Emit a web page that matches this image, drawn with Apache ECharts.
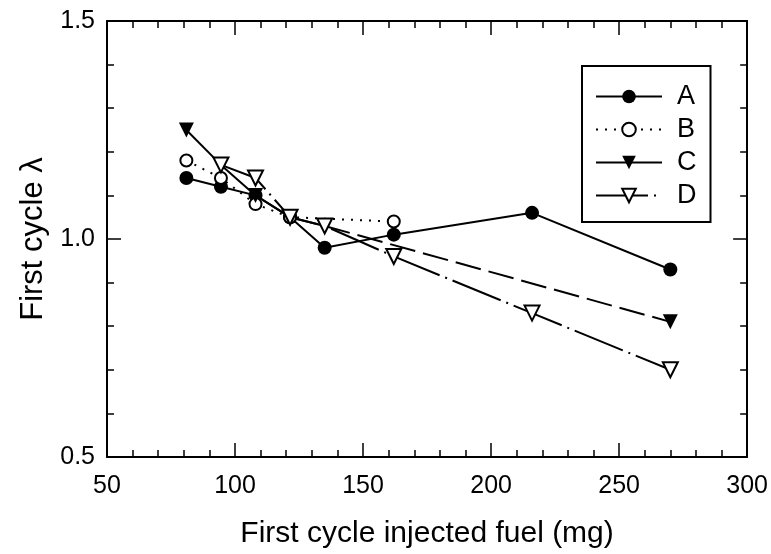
<!DOCTYPE html>
<html>
<head>
<meta charset="utf-8">
<script src="https://cdn.jsdelivr.net/npm/echarts@6/dist/echarts.min.js"></script>
<style>
  html, body { margin: 0; padding: 0; background: #fff; }
  #chart { width: 771px; height: 554px; }
</style>
</head>
<body>
<div id="chart"></div>
<script>
// Injected fuel (mg) and first-cycle lambda for the four runs
const fuelA = [81, 94.5, 108, 121.5, 135, 162, 216, 270];
const lambdaA = [1.14, 1.12, 1.10, 1.05, 0.98, 1.01, 1.06, 0.93];
const fuelB = [81, 94.5, 108, 121.5, 162];
const lambdaB = [1.18, 1.14, 1.08, 1.05, 1.04];
const fuelC = [81, 94.5, 108, 121.5, 135, 270];
const lambdaC = [1.25, 1.17, 1.10, 1.05, 1.03, 0.81];
const fuelD = [94.5, 108, 121.5, 135, 162, 216, 270];
const lambdaD = [1.17, 1.14, 1.05, 1.03, 0.96, 0.83, 0.70];
// run C is measured up to 135 mg, then extended to 270 mg with a dashed line
const cSolidCount = 5;

const xTicks = [50, 100, 150, 200, 250, 300];
const yTicks = [0.5, 1.0, 1.5];
const legendNames = ['A', 'B', 'C', 'D'];

const FONT = '"Liberation Sans", Arial, Helvetica, sans-serif';
const zip = (xs, ys) => xs.map((x, i) => [x, ys[i]]);

const chart = echarts.init(document.getElementById('chart'), null, { renderer: 'canvas' });

const tickCommon = {
  axisLine: { show: true, onZero: false, lineStyle: { color: '#000', width: 2 } },
  axisTick: { show: true, inside: true, length: 14, lineStyle: { color: '#000', width: 1.5 } },
  minorTick: { show: true, splitNumber: 5, length: 7, lineStyle: { color: '#000', width: 1.5 } },
  splitLine: { show: false },
  minorSplitLine: { show: false }
};

const xBase = {
  type: 'value', min: xTicks[0], max: xTicks[xTicks.length - 1], interval: 50
};
const yBase = {
  type: 'value', min: yTicks[0], max: yTicks[yTicks.length - 1], interval: 0.5
};

const option = {
  backgroundColor: '#fff',
  animation: false,
  grid: { left: 107, right: 22, top: 21, bottom: 95, containLabel: false },
  xAxis: [
    Object.assign({}, xBase, tickCommon, {
      position: 'bottom',
      name: 'First cycle injected fuel (mg)',
      nameLocation: 'middle',
      nameGap: 62,
      nameTextStyle: { fontFamily: FONT, fontSize: 30, color: '#000' },
      axisLabel: { show: true, margin: 17, fontFamily: FONT, fontSize: 25, color: '#000' }
    }),
    Object.assign({}, xBase, tickCommon, {
      position: 'top',
      axisLabel: { show: false }
    })
  ],
  yAxis: [
    Object.assign({}, yBase, tickCommon, {
      position: 'left',
      name: 'First cycle λ',
      nameLocation: 'middle',
      nameRotate: 90,
      nameGap: 56,
      nameTextStyle: { fontFamily: FONT, fontSize: 31, color: '#000' },
      axisLabel: {
        show: true, margin: 12, fontFamily: FONT, fontSize: 25, color: '#000',
        formatter: v => v.toFixed(1)
      }
    }),
    Object.assign({}, yBase, tickCommon, {
      position: 'right',
      axisLabel: { show: false }
    })
  ],
  legend: {
    data: legendNames,
    orient: 'vertical',
    left: 582,
    top: 66,
    backgroundColor: '#fff',
    borderColor: '#000',
    borderWidth: 2,
    borderRadius: 0,
    padding: [17, 14, 13, 13],
    itemWidth: 66,
    itemHeight: 17,
    itemGap: 6,
    selectedMode: false,
    textStyle: { fontFamily: FONT, fontSize: 27, color: '#000', lineHeight: 24, padding: [0, 0, 0, 10] }
  },
  series: [
    {
      name: 'A', type: 'line', data: zip(fuelA, lambdaA),
      symbol: 'circle', symbolSize: 14,
      itemStyle: { color: '#000' },
      lineStyle: { color: '#000', width: 2, type: 'solid' }
    },
    {
      name: 'B', type: 'line', data: zip(fuelB, lambdaB),
      symbol: 'circle', symbolSize: 12,
      itemStyle: { color: '#fff', borderColor: '#000', borderWidth: 2 },
      lineStyle: { color: '#000', width: 2, type: [2, 7] }
    },
    {
      name: 'C', type: 'line', data: zip(fuelC.slice(0, cSolidCount), lambdaC.slice(0, cSolidCount)),
      symbol: 'triangle', symbolRotate: 180, symbolSize: 15,
      itemStyle: { color: '#000' },
      lineStyle: { color: '#000', width: 2, type: 'solid' }
    },
    {
      name: 'C (extension)', type: 'line',
      data: zip(fuelC.slice(cSolidCount - 1), lambdaC.slice(cSolidCount - 1)),
      symbol: 'triangle', symbolRotate: 180, symbolSize: 15,
      itemStyle: { color: '#000' },
      lineStyle: { color: '#000', width: 2, type: [26, 8] }
    },
    {
      name: 'D', type: 'line', data: zip(fuelD, lambdaD),
      symbol: 'triangle', symbolRotate: 180, symbolSize: 15,
      itemStyle: { color: '#fff', borderColor: '#000', borderWidth: 2 },
      lineStyle: { color: '#000', width: 2, type: [52, 6, 2, 6] }
    }
  ]
};

chart.setOption(option);
</script>
</body>
</html>
